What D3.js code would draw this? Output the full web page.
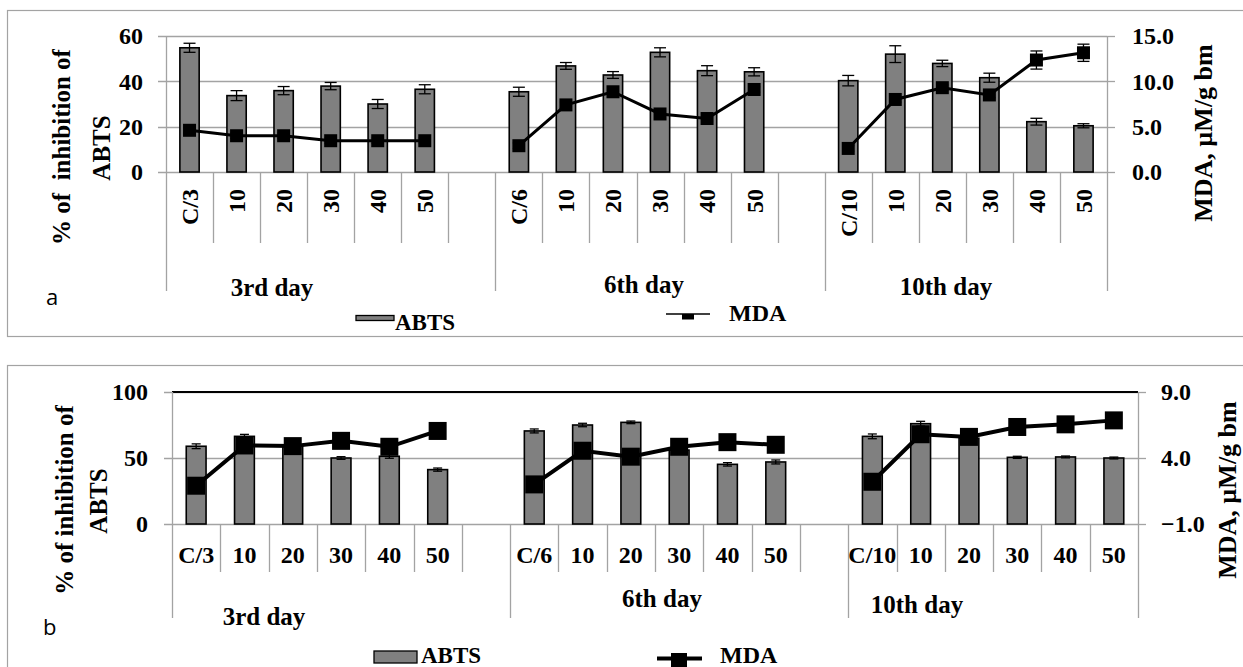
<!DOCTYPE html>
<html>
<head>
<meta charset="utf-8">
<script src="https://cdn.jsdelivr.net/npm/d3@7"></script>
<style>
  body { margin: 0; background: #fff; }
  text { font-family: "Liberation Serif", "Times New Roman", serif; font-weight: bold; fill: #000; }
  .sans { font-family: "Open Sans", "Liberation Sans", sans-serif; font-weight: normal; }
</style>
</head>
<body>
<svg id="chart" width="1243" height="667"></svg>
<script>
// --- Data ---
const days = ["3rd day", "6th day", "10th day"];
const doses = [
  ["C/3", "10", "20", "30", "40", "50"],
  ["C/6", "10", "20", "30", "40", "50"],
  ["C/10", "10", "20", "30", "40", "50"]
];

// panel a
const abtsA    = [54.8, 33.7, 35.9, 37.9, 30.0, 36.5,  35.4, 46.8, 42.8, 52.8, 44.7, 44.2,  40.3, 52.0, 47.9, 41.6, 22.2, 20.4];
const abtsErrA = [2.0, 2.2, 1.8, 1.6, 2.0, 2.0,  2.0, 1.5, 1.5, 2.0, 2.2, 1.8,  2.3, 3.7, 1.4, 2.0, 1.5, 0.9];
const mdaA     = [4.6, 4.0, 4.0, 3.45, 3.45, 3.45,  2.9, 7.4, 8.85, 6.4, 5.9, 9.1,  2.6, 8.0, 9.3, 8.5, 12.35, 13.15];
const mdaErrA  = [0.3, 0.3, 0.3, 0.3, 0.3, 0.3,  0.3, 0.3, 0.3, 0.3, 0.3, 0.3,  0.3, 0.3, 0.3, 0.3, 1.0, 0.95];
const leftTicksA  = [0, 20, 40, 60];
const rightTicksA = [0, 5, 10, 15];

// panel b
const abtsB    = [58.9, 66.4, 59.0, 50.0, 51.3, 41.2,  70.5, 75.0, 77.0, 56.0, 45.2, 47.0,  66.4, 76.0, 65.0, 50.5, 50.8, 50.0];
const abtsErrB = [1.8, 1.5, 1.0, 1.0, 1.5, 1.2,  1.5, 1.3, 1.0, 1.0, 1.3, 1.5,  1.8, 1.8, 1.0, 0.8, 0.7, 0.7];
const mdaB     = [1.9, 4.95, 4.9, 5.3, 4.85, 6.05,  2.0, 4.55, 4.1, 4.85, 5.2, 5.0,  2.2, 5.8, 5.6, 6.35, 6.55, 6.85];
const mdaErrB  = [0.2, 0.2, 0.2, 0.2, 0.2, 0.2,  0.2, 0.2, 0.2, 0.2, 0.2, 0.2,  0.2, 0.2, 0.2, 0.2, 0.2, 0.2];
const leftTicksB  = [0, 50, 100];
const rightTicksB = [-1, 4, 9];

const svg = d3.select("#chart");
const grey = "#a3a3a3";

// slots: 6 doses per day + an empty slot between days
const slots = [];
days.forEach((d, g) => {
  doses[g].forEach((c, i) => slots.push(g + "-" + i));
  if (g < days.length - 1) slots.push(g + "-gap");
});

function rows(abts, abtsErr, mda, mdaErr) {
  return abts.map((v, k) => ({
    g: Math.floor(k / 6),
    key: Math.floor(k / 6) + "-" + (k % 6),
    label: doses[Math.floor(k / 6)][k % 6],
    abts: v, abtsErr: abtsErr[k], mda: mda[k], mdaErr: mdaErr[k]
  }));
}

function drawPanel(p) {
  const g = svg.append("g");
  const data = rows(p.abts, p.abtsErr, p.mda, p.mdaErr);

  // outer box
  g.append("rect")
    .attr("x", 7.5).attr("y", p.boxTop + 0.5)
    .attr("width", 1250).attr("height", p.boxH)
    .attr("fill", "none").attr("stroke", grey).attr("stroke-width", 1.2);

  const x = d3.scaleBand().domain(slots).range([p.x0, p.x1]);
  const yL = d3.scaleLinear().domain(d3.extent(p.leftTicks)).range([p.yBot, p.yTop]);
  const yR = d3.scaleLinear().domain(d3.extent(p.rightTicks)).range([p.yBot, p.yTop]);
  const bw = x.bandwidth() * 0.41;
  const cx = d => x(d.key) + x.bandwidth() / 2;

  // gridlines + left tick marks
  g.selectAll(".grid").data(p.leftTicks).join("line")
    .attr("x1", p.x0 - 8).attr("x2", p.x1)
    .attr("y1", d => Math.round(yL(d)) + 0.5).attr("y2", d => Math.round(yL(d)) + 0.5)
    .attr("stroke", grey).attr("stroke-width", 1.3);
  // right tick marks
  g.selectAll(".rtick").data(p.rightTicks).join("line")
    .attr("x1", p.x1).attr("x2", p.x1 + 8)
    .attr("y1", d => Math.round(yR(d)) + 0.5).attr("y2", d => Math.round(yR(d)) + 0.5)
    .attr("stroke", grey).attr("stroke-width", 1.3);
  if (p.topBorder) {
    g.append("line").attr("x1", p.x0).attr("x2", p.x1)
      .attr("y1", p.yTop).attr("y2", p.yTop)
      .attr("stroke", "#000").attr("stroke-width", 2.2);
  }

  // slot separators (short) and day separators (long)
  const bounds = d3.range(0, slots.length + 1).map(i => ({
    xv: i < slots.length ? x(slots[i]) : p.x1,
    long: i === 0 || i === slots.length || slots[i].endsWith("-0")
  }));
  g.selectAll(".sep").data(bounds).join("line")
    .attr("x1", d => Math.round(d.xv) + 0.5).attr("x2", d => Math.round(d.xv) + 0.5)
    .attr("y1", d => (d.long && (d.xv === p.x0 || d.xv === p.x1)) ? p.yTop : p.yBot)
    .attr("y2", d => d.long ? p.longEnd : p.shortEnd)
    .attr("stroke", grey).attr("stroke-width", 1.3);

  // bars
  g.selectAll(".bar").data(data).join("rect")
    .attr("x", d => cx(d) - bw / 2).attr("width", bw)
    .attr("y", d => yL(d.abts)).attr("height", d => yL(0) - yL(d.abts))
    .attr("fill", "#808080").attr("stroke", "#000").attr("stroke-width", 1.6);

  // error bars helper
  function errBars(yS, val, err, cap, sw) {
    const e = g.append("g").selectAll("g").data(data).join("g");
    e.append("line").attr("x1", cx).attr("x2", cx)
      .attr("y1", d => yS(val(d) + err(d))).attr("y2", d => yS(val(d) - err(d)))
      .attr("stroke", "#000").attr("stroke-width", sw);
    [1, -1].forEach(s => {
      e.append("line").attr("x1", d => cx(d) - cap / 2).attr("x2", d => cx(d) + cap / 2)
        .attr("y1", d => yS(val(d) + s * err(d))).attr("y2", d => yS(val(d) + s * err(d)))
        .attr("stroke", "#000").attr("stroke-width", sw);
    });
  }
  errBars(yL, d => d.abts, d => d.abtsErr, p.cap, 1.3);

  // MDA line, broken between days
  const line = d3.line().x(cx).y(d => yR(d.mda));
  g.selectAll(".mda").data(d3.groups(data, d => d.g)).join("path")
    .attr("d", d => line(d[1]))
    .attr("fill", "none").attr("stroke", "#000").attr("stroke-width", p.lineW);
  errBars(yR, d => d.mda, d => d.mdaErr, p.cap, 1.3);
  g.selectAll(".mk").data(data).join("rect")
    .attr("x", d => cx(d) - p.mk / 2).attr("y", d => yR(d.mda) - p.mk / 2)
    .attr("width", p.mk).attr("height", p.mk).attr("fill", "#000");

  // tick labels
  g.selectAll(".ll").data(p.leftTicks).join("text")
    .attr("x", p.x0 - p.lOff).attr("y", d => yL(d)).attr("dy", "0.35em")
    .attr("text-anchor", "end").attr("font-size", 24)
    .text(d => d);
  g.selectAll(".rl").data(p.rightTicks).join("text")
    .attr("x", p.x1 + p.rOff).attr("y", d => yR(d)).attr("dy", "0.35em")
    .attr("text-anchor", "start").attr("font-size", 24)
    .text(d3.format(".1f"));

  // category labels
  if (p.rotated) {
    g.selectAll(".cl").data(data).join("text")
      .attr("transform", d => `translate(${cx(d)},${p.catY}) rotate(-90)`)
      .attr("dy", "0.35em").attr("text-anchor", "end").attr("font-size", 24)
      .text(d => d.label);
  } else {
    g.selectAll(".cl").data(data).join("text")
      .attr("x", cx).attr("y", p.catY)
      .attr("text-anchor", "middle").attr("font-size", 24)
      .text(d => d.label);
  }

  // day labels
  g.selectAll(".dl").data(days).join("text")
    .attr("x", (d, i) => p.dayX[i]).attr("y", (d, i) => p.dayY[i])
    .attr("text-anchor", "middle").attr("font-size", 25)
    .text(d => d);

  // axis titles
  p.leftTitle.forEach((t, i) => {
    g.append("text")
      .attr("transform", `translate(${p.leftTitleX[i]},${p.leftTitleY[i]}) rotate(-90)`)
      .attr("dy", "0.35em").attr("text-anchor", "middle").attr("font-size", 25)
      .style("white-space", "pre")
      .text(t);
  });
  g.append("text")
    .attr("transform", `translate(${p.rightTitleX},${p.rightTitleY}) rotate(-90)`)
    .attr("dy", "0.35em").attr("text-anchor", "middle").attr("font-size", 26)
    .text("MDA, µM/g bm");

  // panel letter
  g.append("text").attr("class", "sans")
    .attr("x", p.letterX).attr("y", p.letterY).attr("font-size", 22)
    .text(p.letter);

  // legend
  const L = p.legend;
  g.append("rect").attr("x", L.rx).attr("y", L.ry).attr("width", L.rw).attr("height", L.rh)
    .attr("fill", "#808080").attr("stroke", "#000").attr("stroke-width", 1.3);
  g.append("text").attr("x", L.tx).attr("y", L.ty).attr("font-size", L.fs).text("ABTS");
  g.append("line").attr("x1", L.lx1).attr("x2", L.lx2).attr("y1", L.ly).attr("y2", L.ly)
    .attr("stroke", "#000").attr("stroke-width", L.lw);
  g.append("rect").attr("x", L.mx).attr("y", L.my).attr("width", L.mw).attr("height", L.mh)
    .attr("fill", "#000");
  g.append("text").attr("x", L.mtx).attr("y", L.mty).attr("font-size", 24).text("MDA");
}

drawPanel({
  abts: abtsA, abtsErr: abtsErrA, mda: mdaA, mdaErr: mdaErrA,
  leftTicks: leftTicksA, rightTicks: rightTicksA,
  boxTop: 10, boxH: 326,
  x0: 166, x1: 1107, yTop: 36, yBot: 172,
  shortEnd: 243, longEnd: 291, topBorder: false,
  cap: 12, mk: 13, lineW: 3,
  lOff: 23, rOff: 25,
  rotated: true, catY: 189,
  dayX: [272, 644, 946], dayY: [296, 293, 295],
  leftTitle: ["% of  inhibition of", "ABTS"], leftTitleX: [61, 101], leftTitleY: [147, 148],
  rightTitleX: 1203, rightTitleY: 133,
  letter: "a", letterX: 46, letterY: 305,
  legend: { rx: 356, ry: 315.5, rw: 38, rh: 5, tx: 395, ty: 330, fs: 23,
            lx1: 666, lx2: 710, ly: 314, lw: 1.5, mx: 682, my: 314, mw: 12, mh: 5.5,
            mtx: 729, mty: 321 }
});

drawPanel({
  abts: abtsB, abtsErr: abtsErrB, mda: mdaB, mdaErr: mdaErrB,
  leftTicks: leftTicksB, rightTicks: rightTicksB,
  boxTop: 365, boxH: 320,
  x0: 172, x1: 1138, yTop: 392, yBot: 524,
  shortEnd: 572, longEnd: 618, topBorder: true,
  cap: 9, mk: 18, lineW: 4,
  lOff: 24, rOff: 23,
  rotated: false, catY: 563,
  dayX: [264, 662, 917], dayY: [625, 607, 613],
  leftTitle: ["% of inhibition of", "ABTS"], leftTitleX: [64, 98], leftTitleY: [500, 501],
  rightTitleX: 1227, rightTitleY: 490,
  letter: "b", letterX: 43, letterY: 635,
  legend: { rx: 374, ry: 651, rw: 43, rh: 12, tx: 421, ty: 663, fs: 23,
            lx1: 657, lx2: 702, ly: 658.5, lw: 4, mx: 671, my: 653, mw: 16, mh: 14,
            mtx: 720, mty: 663 }
});
</script>
</body>
</html>
